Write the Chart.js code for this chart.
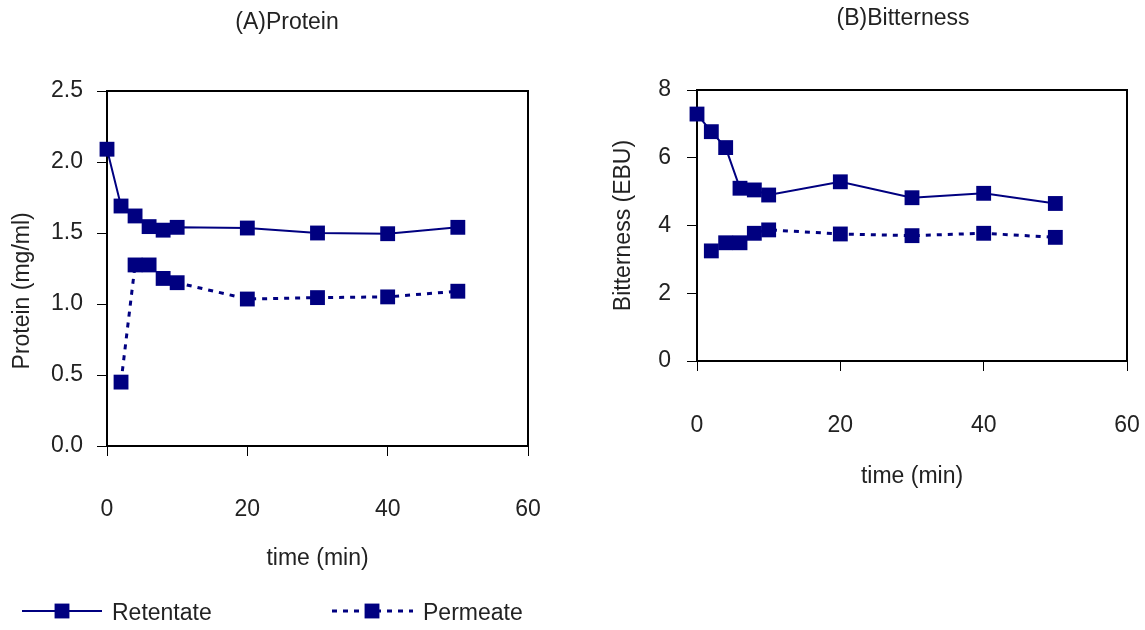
<!DOCTYPE html>
<html>
<head>
<meta charset="utf-8">
<script src="https://cdn.jsdelivr.net/npm/chart.js@4/dist/chart.umd.min.js"></script>
<style>
body { margin: 0; background: #fff; }
#wrap { position: relative; width: 1145px; height: 630px; }
#proteinChart { position: absolute; left: 0; top: 0; }
#bitterChart { position: absolute; left: 560px; top: 0; }
</style>
</head>
<body>
<div id="wrap">
<canvas id="proteinChart" width="560" height="630"></canvas>
<canvas id="bitterChart" width="585" height="630"></canvas>
</div>
<script>
// sampling times (min)
times = [0, 2, 4, 6, 8, 10, 20, 30, 40, 50];

// (A) protein, mg/ml
proteinRetentate = [2.09, 1.69, 1.62, 1.545, 1.52, 1.54, 1.535, 1.50, 1.495, 1.54];
proteinPermeate  = [null, 0.45, 1.275, 1.275, 1.18, 1.15, 1.035, 1.045, 1.05, 1.09];

// (B) bitterness, EBU
bitterRetentate = [7.29, 6.77, 6.30, 5.10, 5.05, 4.90, 5.29, 4.82, 4.95, 4.65];
bitterPermeate  = [null, 3.25, 3.49, 3.49, 3.77, 3.87, 3.75, 3.70, 3.77, 3.65];

seriesNames = ['Retentate', 'Permeate'];
xTicks = [0, 60, 20];
proteinTicks = [0, 2.5, 0.5];
bitterTicks = [0, 8, 2];

navy = '#000080';
textColor = '#222';
fontFamily = '"Liberation Sans", Arial, sans-serif';

function series(values) {
    var pts = [];
    for (var i = 0; i < times.length; i++) {
        if (values[i] !== null) pts.push({x: times[i], y: values[i]});
    }
    return pts;
}

function dataset(label, values, dashed) {
    return {
        label: label,
        data: series(values),
        borderColor: navy,
        backgroundColor: navy,
        borderWidth: dashed ? 3 : 2,
        borderDash: dashed ? [5, 6] : [],
        pointStyle: 'rect',
        pointRadius: 10.5,
        pointBorderWidth: 0,
        tension: 0,
        clip: false
    };
}

// box around plot, chart title, legend
var deco = {
    id: 'deco',
    beforeDatasetsDraw: function(chart) {
        var a = chart.chartArea, ctx = chart.ctx;
        ctx.save();
        ctx.strokeStyle = '#000';
        ctx.lineWidth = 2;
        ctx.beginPath();
        ctx.moveTo(a.left, a.top);
        ctx.lineTo(a.right, a.top);
        ctx.lineTo(a.right, a.bottom);
        ctx.stroke();
        ctx.restore();
    },
    afterDraw: function(chart, args, opts) {
        var ctx = chart.ctx;
        ctx.save();
        ctx.fillStyle = textColor;
        ctx.font = '23px ' + fontFamily;
        ctx.textAlign = 'center';
        ctx.textBaseline = 'middle';
        ctx.fillText(opts.title, opts.titleX, opts.titleY);

        if (opts.legend) {
            chart.data.datasets.forEach(function(ds, i) {
                var it = opts.legend[i];
                ctx.strokeStyle = ds.borderColor;
                ctx.lineWidth = ds.borderWidth;
                ctx.setLineDash(ds.borderDash);
                ctx.beginPath();
                ctx.moveTo(it.from, it.y);
                ctx.lineTo(it.to, it.y);
                ctx.stroke();
                ctx.setLineDash([]);
                ctx.fillStyle = ds.backgroundColor;
                var s = ds.pointRadius * Math.SQRT1_2;
                ctx.fillRect(it.marker - s, it.y - s, 2 * s, 2 * s);
                ctx.fillStyle = textColor;
                ctx.textAlign = 'left';
                ctx.fillText(ds.label, it.text, it.y + 3);
            });
        }
        ctx.restore();
    }
};

function makeChart(id, sets, yTicks, yLabel, fmt, geo, deco_opts) {
    return new Chart(document.getElementById(id), {
        type: 'line',
        data: { datasets: sets },
        options: {
            responsive: false,
            animation: false,
            events: [],
            layout: { padding: geo.pad },
            plugins: {
                legend: { display: false },
                tooltip: { enabled: false },
                deco: deco_opts
            },
            scales: {
                x: {
                    type: 'linear',
                    min: xTicks[0], max: xTicks[1],
                    ticks: { stepSize: xTicks[2], color: textColor, padding: geo.xTickPad,
                             font: { family: fontFamily, size: 23 } },
                    grid: { drawOnChartArea: false, tickLength: 10, color: '#000', lineWidth: 1 },
                    border: { color: '#000', width: 2 },
                    title: { display: true, text: 'time (min)', color: textColor,
                             font: { family: fontFamily, size: 23 },
                             padding: { top: 0, bottom: geo.xTitlePad } },
                    afterFit: function(s) {
                        s.height = 130;
                        s.paddingLeft = 0;
                        s.paddingRight = 0;
                    }
                },
                y: {
                    min: yTicks[0], max: yTicks[1],
                    ticks: { stepSize: yTicks[2], color: textColor, padding: geo.yTickPad,
                             font: { family: fontFamily, size: 23 },
                             callback: fmt },
                    grid: { drawOnChartArea: false, tickLength: 10, color: '#000', lineWidth: 1 },
                    border: { color: '#000', width: 2 },
                    title: { display: true, text: yLabel, color: textColor,
                             font: { family: fontFamily, size: 23 },
                             padding: { top: geo.yTitlePad, bottom: 0 } },
                    afterFit: function(s) {
                        s.width = geo.yWidth;
                        s.paddingTop = 0;
                        s.paddingBottom = 0;
                    }
                }
            }
        },
        plugins: [deco]
    });
}

var proteinChart = makeChart('proteinChart',
    [dataset(seriesNames[0], proteinRetentate, false), dataset(seriesNames[1], proteinPermeate, true)],
    proteinTicks, 'Protein (mg/ml)       ',
    function(v) { return v.toFixed(1); },
    { pad: {left: 0, right: 32, top: 91, bottom: 54}, yWidth: 107,
      xTickPad: 40, xTitlePad: 4, yTickPad: 14, yTitlePad: 9 },
    { title: '(A)Protein', titleX: 287, titleY: 23,
      legend: [ {from: 22, to: 102, marker: 62, text: 112, y: 611},
                {from: 332, to: 413, marker: 372, text: 423, y: 611} ] });

var bitterChart = makeChart('bitterChart',
    [dataset(seriesNames[0], bitterRetentate, false), dataset(seriesNames[1], bitterPermeate, true)],
    bitterTicks, 'Bitterness (EBU)',
    function(v) { return v; },
    { pad: {left: 0, right: 18, top: 90, bottom: 139}, yWidth: 137,
      xTickPad: 41, xTitlePad: 1, yTickPad: 16, yTitlePad: 50 },
    { title: '(B)Bitterness', titleX: 343, titleY: 19, legend: null });
</script>
</body>
</html>
